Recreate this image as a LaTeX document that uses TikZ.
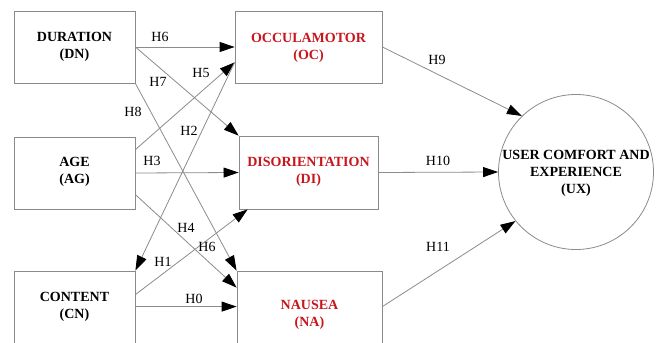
\documentclass[tikz,border=0pt]{standalone}
\usepackage{fontspec}
\setmainfont{Liberation Serif}
\usetikzlibrary{arrows.meta,calc}
\definecolor{boxgray}{HTML}{8A8A8A}
\definecolor{linegray}{HTML}{8C8C8C}
\definecolor{varred}{HTML}{C8161D}
\begin{document}
\begin{tikzpicture}[x=1pt,y=-1pt,
  box/.style={draw=boxgray,line width=0.8pt,rectangle,inner sep=0pt},
  ttl/.style={font=\fontsize{14}{17}\selectfont\bfseries,align=center,inner sep=0pt},
  redttl/.style={ttl,text=varred},
  conn/.style={draw=linegray,line width=0.8pt,-{Triangle[length=15pt,width=10pt,fill=black,color=black]}},
  hlab/.style={font=\fontsize{14}{17}\selectfont,inner sep=0pt}]
\useasboundingbox (0,0) rectangle (662,343);
\clip (0,0) rectangle (662,343);
\fill[white] (0,0) rectangle (662,343);
% boxes
\node[box,minimum width=121pt,minimum height=72pt] (dn) at (74.5,47) {};
\node[ttl] (dnt) at (74.5,47) {DURATION\\(DN)};
\node[box,minimum width=147pt,minimum height=72pt] (oc) at (308.5,47) {};
\node[redttl] (oct) at (308.5,48) {OCCULAMOTOR\\(OC)};
\node[box,minimum width=121pt,minimum height=72pt] (ag) at (74.5,173) {};
\node[ttl] (agt) at (74.5,172) {AGE\\(AG)};
\node[box,minimum width=139pt,minimum height=73pt] (di) at (308.5,172.5) {};
\node[redttl] (dit) at (308.5,172) {DISORIENTATION\\(DI)};
\node[box,minimum width=121pt,minimum height=90pt] (cn) at (74.5,316) {};
\node[ttl] (cnt) at (74.5,307) {CONTENT\\(CN)};
\node[box,minimum width=145pt,minimum height=90pt] (na) at (309.5,316) {};
\node[redttl] (nat) at (309.5,315) {NAUSEA\\(NA)};
\node[draw=boxgray,line width=0.8pt,circle,minimum size=155pt,inner sep=0pt] (ux) at (576,172) {};
\node[ttl] (uxt) at (576,173) {USER COMFORT AND\\EXPERIENCE\\(UX)};
% named endpoints
\coordinate (dnR) at (dn.east);
\coordinate (ag1) at ($(ag.north east)+(0,13)$);
\coordinate (ag3) at ($(ag.north east)+(0,58)$);
\coordinate (ocL) at ($(oc.south west)+(0,-21)$);
\coordinate (cn1) at ($(cn.north east)+(0,24)$);
\coordinate (cn2) at ($(cn.north east)+(0,36)$);
\coordinate (na1) at ($(na.north west)+(0,17)$);
\coordinate (na2) at ($(na.north west)+(0,36)$);
\coordinate (di1) at ($(di.south west)+(9,0)$);
\coordinate (naR) at ($(na.north east)+(0,36)$);
% connectors
\draw[conn] (dnR) -- (oc.west);
\draw[conn] (dnR) -- (di.north west);
\draw[conn] (dn.south east) -- (na.north west);
\draw[conn] (ag1) -- (ocL);
\draw[conn] (ocL) -- (cn.north east);
\draw[conn] (ag.east) -- (di.west);
\draw[conn] (ag3) -- (na1);
\draw[conn] (cn1) -- (di1);
\draw[conn] (cn2) -- (na2);
\draw[conn] (oc.east) -- (ux.134.5);
\draw[conn] (di.east) -- (ux.west);
\draw[conn] (naR) -- (ux.219);
% labels
\node[hlab] (l6) at (160,37) {H6};
\node[hlab] (l7) at (158,82) {H7};
\node[hlab] (l8) at (133,112) {H8};
\node[hlab] (l5) at (201,73) {H5};
\node[hlab] (l2) at (189,131) {H2};
\node[hlab] (l3) at (152,161) {H3};
\node[hlab] (l4) at (186,228) {H4};
\node[hlab] (l6b) at (207,247) {H6};
\node[hlab] (l1) at (163,262) {H1};
\node[hlab] (l0) at (194,299) {H0};
\node[hlab] (l9) at (437,60) {H9};
\node[hlab] (l10) at (438,161) {H10};
\node[hlab] (l11) at (438,247) {H11};
\end{tikzpicture}
\end{document}
